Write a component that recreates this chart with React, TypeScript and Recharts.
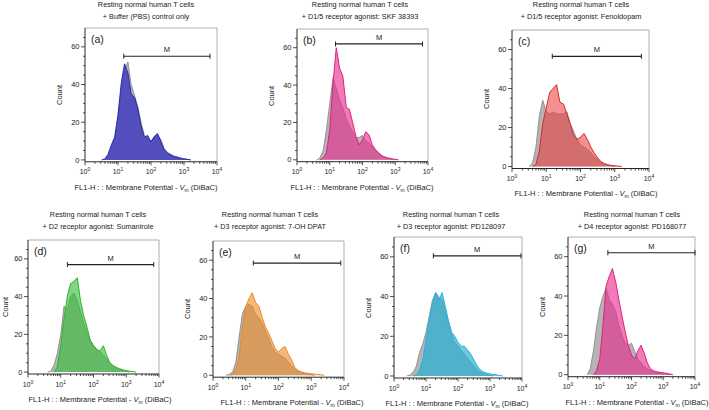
import React from 'react'
import { AreaChart, Area, XAxis, YAxis, ReferenceLine } from 'recharts'

const _ = null

// FL1-H bin centres (DiBaC fluorescence), 0.1 decade apart
const fl1 = [2, 2.5, 3.2, 4, 5, 6.3, 7.9, 10, 12.6, 15.8, 20, 25, 32, 40, 50, 63, 79, 100, 126, 158, 200, 251, 316, 398, 501, 631, 794, 1000, 1259, 1585, 1995, 2512, 3162, 3981]

// counts per bin: grey = untreated reference, second array = treated cells
const ctrlA = [_, _, _, 0, 2, 6, 10, 20, 36, 48, 52, 40, 34, 28, 20, 13, 12, 10, 12, 13, 11, 6, 4, 3, 2, 1.5, 1, 0.6, 0.3, 0, _, _, _, _]
const pbsA = [_, _, 0, 0.5, 3, 8, 12, 24, 41, 51, 46, 35, 33, 27, 18, 12, 13, 9.5, 12.5, 14, 9.5, 5.5, 3.5, 2.6, 1.8, 1.4, 0.9, 0.5, 0.3, 0, _, _, _, _]
const ctrlB = [_, _, _, 0, 1, 5, 16, 30, 44, 38, 32, 28, 22, 18, 15, 12, 12, 13, 10, 9, 7, 5, 3, 2, 1.3, 0.8, 0.4, 0, _, _, _, _, _, _]
const skfB = [_, _, _, _, 0, 1, 3.6, 16, 41, 60, 49, 45, 28, 27, 20, 12.5, 8, 10.7, 15, 13.4, 8, 5.4, 3.6, 2.1, 1.4, 0.9, 0.5, 0.3, 0, _, _, _, _, _]
const ctrlC = [_, _, 0, 2, 10, 26, 34, 28, 27, 28, 27, 27, 27, 28, 22, 18, 14, 11, 10, 9, 7, 5, 3.5, 2, 1.2, 0.7, 0.4, 0, _, _, _, _, _, _]
const fenC = [_, _, _, 0, 1, 8, 22, 30, 38, 40, 42, 33, 32, 27, 22, 16, 14, 15, 17, 14, 10, 7, 4.5, 2.5, 1.5, 0.9, 0.6, 0.4, 0.2, 0, _, _, _, _]
const ctrlD = [_, _, _, 0, 0.5, 4, 10, 20, 35, 33, 40, 42, 38, 32, 26, 21, 17, 14, 12, 11, 9, 7, 4.5, 3, 2, 1.3, 0.8, 0.4, 0, _, _, _, _, _]
const sumD = [_, _, _, _, _, 0, 3, 14, 28, 40, 47, 48, 50, 38, 30, 24, 17, 14, 12, 11, 14, 9, 5, 3.5, 2.5, 1.8, 1.2, 0.8, 0.5, 0.3, 0, _, _, _]
const ctrlE = [_, 0, 0.5, 2, 7, 20, 32, 36, 37, 36, 32, 30, 27, 23, 19, 15, 12, 11, 10, 9, 7, 5, 3, 2, 1.2, 0.8, 0.5, 0.3, 0, _, _, _, _, _]
const dpatE = [_, _, 0, 0.5, 3, 10, 25, 36, 40, 43, 38, 36, 30, 25, 22, 18, 14, 12, 14, 15, 11, 8, 4, 2.5, 1.8, 1.2, 1, 0.8, 0.6, 0.4, 0.2, 0, _, _]
const ctrlF = [_, 0, 0.5, 2, 5, 12, 16, 22, 30, 38, 42, 40, 38, 33, 27, 21, 17, 15, 13, 11, 9, 7, 5, 3, 2, 1.2, 0.6, 0.3, 0, _, _, _, _, _]
const pd128F = [_, _, _, 0, 0.5, 3, 8, 18, 28, 36, 42, 38, 42, 35, 28, 22, 20, 17, 15, 15, 13, 11, 8, 5, 3, 2, 1.5, 1, 0.8, 0.6, 0.3, 0, _, _]
const ctrlG = [_, _, _, 0, 3, 12, 24, 34, 40, 44, 38, 36, 32, 25, 20, 16, 15, 16, 12, 8, 6, 4, 3, 2, 1.5, 1, 0.8, 0.5, 0.8, 0.3, 0, _, _, _]
const pd168G = [_, _, _, _, _, 0, 2, 8, 25, 45, 50, 54, 47, 38, 30, 22, 15, 10, 8, 12, 15, 11, 6, 3, 2, 1.5, 1.2, 1, 0.6, 0.3, 0, _, _, _]

// M gate: [from, to, count level]
const gateA = [15, 6150, 55]
const gateB = [15, 6800, 62]
const gateC = [15, 6000, 56.5]
const gateD = [16, 6900, 57]
const gateE = [17, 8000, 58.5]
const gateF = [17, 9300, 60.5]
const gateG = [18, 10000, 62]

const titleTop = 'Resting normal human T cells'
const decades = [1, 10, 100, 1000, 10000]
const minorSteps = [2, 3, 4, 5, 6, 7, 8, 9]
const xTicks = [...decades, ...decades.slice(0, 4).flatMap(d => minorSteps.map(m => d * m))].sort((a, b) => a - b)
const yTicks = [0, 5, 10, 15, 20, 25, 30, 35, 40, 45, 50, 55, 60, 65]

const FONT = '"Liberation Sans", Arial, Helvetica, sans-serif'
const GREY_FILL = '#b4b4b4'
const GREY_LINE = '#8c8c8c'

const panels = [
    { id: 'a', sub: '+ Buffer (PBS) control only', control: ctrlA, treated: pbsA, gate: gateA, fill: 'rgba(62,56,192,0.82)', stroke: '#2a28a6', left: 85, right: 217, top: 28.2, bottom: 162, titleX: 146, labelX: 146 },
    { id: 'b', sub: '+ D1/5 receptor agonist: SKF 38393', control: ctrlB, treated: skfB, gate: gateB, fill: 'rgba(232,40,140,0.62)', stroke: '#e0207c', left: 297, right: 428, top: 29.3, bottom: 162, titleX: 360, labelX: 362 },
    { id: 'c', sub: '+ D1/5 receptor agonist: Fenoldopam', control: ctrlC, treated: fenC, gate: gateC, fill: 'rgba(236,52,52,0.55)', stroke: '#d32a2a', left: 512, right: 649, top: 29.5, bottom: 168, titleX: 581, labelX: 586 },
    { id: 'd', sub: '+ D2 receptor agonist: Sumanirole', control: ctrlD, treated: sumD, gate: gateD, fill: 'rgba(52,190,52,0.62)', stroke: '#2cb52c', left: 28, right: 159, top: 240, bottom: 374, titleX: 98, labelX: 100 },
    { id: 'e', sub: '+ D3 receptor agonist: 7-OH DPAT', control: ctrlE, treated: dpatE, gate: gateE, fill: 'rgba(236,140,40,0.62)', stroke: '#e6892a', left: 213, right: 344, top: 240.8, bottom: 377, titleX: 270, labelX: 292 },
    { id: 'f', sub: '+ D3 receptor agonist: PD128097', control: ctrlF, treated: pd128F, gate: gateF, fill: 'rgba(30,176,216,0.66)', stroke: '#1cb4e0', left: 394, right: 522, top: 237, bottom: 378, titleX: 451, labelX: 457 },
    { id: 'g', sub: '+ D4 receptor agonist: PD168077', control: ctrlG, treated: pd168G, gate: gateG, fill: 'rgba(232,40,140,0.62)', stroke: '#e0207c', left: 568, right: 695, top: 237.3, bottom: 377, titleX: 632, labelX: 637 },
]

const LogTick = ({ x, y, payload }: any) => {
    const v = payload.value
    const e = Math.round(Math.log10(v))
    const major = Math.abs(Math.log10(v) - e) < 1e-6
    return (
        <g>
            <line x1={x} x2={x} y1={y} y2={y + (major ? 3.5 : 2)} stroke="#222" strokeWidth={0.8} />
            {major && (
                <text x={x} y={y + 12.5} textAnchor="middle" fontSize={7} fill="#222" fontFamily={FONT}>
                    10<tspan dy={-3} fontSize={5}>{e}</tspan>
                </text>
            )}
        </g>
    )
}

const CountTick = ({ x, y, payload }: any) => {
    const major = payload.value % 20 === 0
    return (
        <g>
            <line x1={x - (major ? 4 : 2)} x2={x} y1={y} y2={y} stroke="#222" strokeWidth={0.8} />
            {major && (
                <text x={x - 5.5} y={y + 2.6} textAnchor="end" fontSize={7.5} fill="#222" fontFamily={FONT}>
                    {payload.value}
                </text>
            )}
        </g>
    )
}

const Panel = ({ p }: any) => {
    const data = fl1.map((x, i) => ({ fl1: x, control: p.control[i], treated: p.treated[i] }))
    const plotW = p.right - p.left
    const plotH = p.bottom - p.top
    const [g0, g1, gy] = p.gate
    const midY = (p.top + p.bottom) / 2
    const countX = Math.max(p.left - 25, 6)
    return (
        <>
            <div style={{ position: 'absolute', left: p.titleX - 100, top: p.top < 100 ? -1 : 209, width: 200, textAlign: 'center', fontSize: 7.3, lineHeight: '12px', color: '#222', fontFamily: FONT }}>
                {titleTop}
                <br />
                {p.sub}
            </div>
            <div style={{ position: 'absolute', left: countX - 30, top: midY - 6, width: 60, height: 12, textAlign: 'center', fontSize: 7.5, lineHeight: '12px', color: '#222', fontFamily: FONT, transform: 'rotate(-90deg)' }}>
                Count
            </div>
            <div style={{ position: 'absolute', left: p.labelX - 90, top: p.bottom + 20, width: 180, textAlign: 'center', fontSize: 7.5, lineHeight: '12px', color: '#222', fontFamily: FONT, whiteSpace: 'nowrap' }}>
                FL1-H : : Membrane Potential - <i>V</i>
                <span style={{ fontSize: 5, position: 'relative', top: 2 }}>m</span> (DiBaC)
            </div>
            <div style={{ position: 'absolute', left: p.left + 6, top: p.top + 5, fontSize: 10.5, lineHeight: '13px', color: '#222', fontFamily: FONT }}>
                ({p.id})
            </div>
            <div style={{ position: 'absolute', left: p.left - 40, top: p.top - 4 }}>
                <AreaChart width={plotW + 46} height={plotH + 28} data={data} margin={{ top: 4, right: 6, bottom: 0, left: 0 }} style={{ overflow: 'visible' }}>
                    <XAxis dataKey="fl1" type="number" scale="log" domain={[1, 10000]} allowDataOverflow ticks={xTicks} interval={0} tick={<LogTick />} tickLine={false} tickSize={0} tickMargin={0} height={24} axisLine={{ stroke: '#111', strokeWidth: 0.9 }} />
                    <YAxis type="number" domain={[-1, 70]} allowDataOverflow ticks={yTicks} interval={0} tick={<CountTick />} tickLine={false} tickSize={0} tickMargin={0} width={40} axisLine={{ stroke: '#111', strokeWidth: 0.9 }} />
                    <ReferenceLine y={70} stroke="#9a9a9a" strokeWidth={0.8} />
                    <ReferenceLine x={10000} stroke="#9a9a9a" strokeWidth={0.8} />
                    <Area type="linear" dataKey="control" fill={GREY_FILL} fillOpacity={1} stroke={GREY_LINE} strokeWidth={0.9} isAnimationActive={false} dot={false} activeDot={false} />
                    <Area type="linear" dataKey="treated" fill={p.fill} fillOpacity={1} stroke={p.stroke} strokeWidth={1} isAnimationActive={false} dot={false} activeDot={false} />
                    <ReferenceLine segment={[{ x: g0, y: gy }, { x: g1, y: gy }]} stroke="#222" strokeWidth={1.2} label={{ value: 'M', position: 'top', fontSize: 7.5, fill: '#222', fontFamily: FONT, offset: 4 }} />
                    <ReferenceLine segment={[{ x: g0, y: gy - 1.3 }, { x: g0, y: gy + 1.3 }]} stroke="#222" strokeWidth={1} />
                    <ReferenceLine segment={[{ x: g1, y: gy - 1.3 }, { x: g1, y: gy + 1.3 }]} stroke="#222" strokeWidth={1} />
                </AreaChart>
            </div>
        </>
    )
}

export default function App() {
    return (
        <div style={{ position: 'absolute', left: 0, top: 0, width: 709, height: 410, background: '#fff', overflow: 'hidden' }}>
            {panels.map(p => (
                <Panel key={p.id} p={p} />
            ))}
        </div>
    )
}
